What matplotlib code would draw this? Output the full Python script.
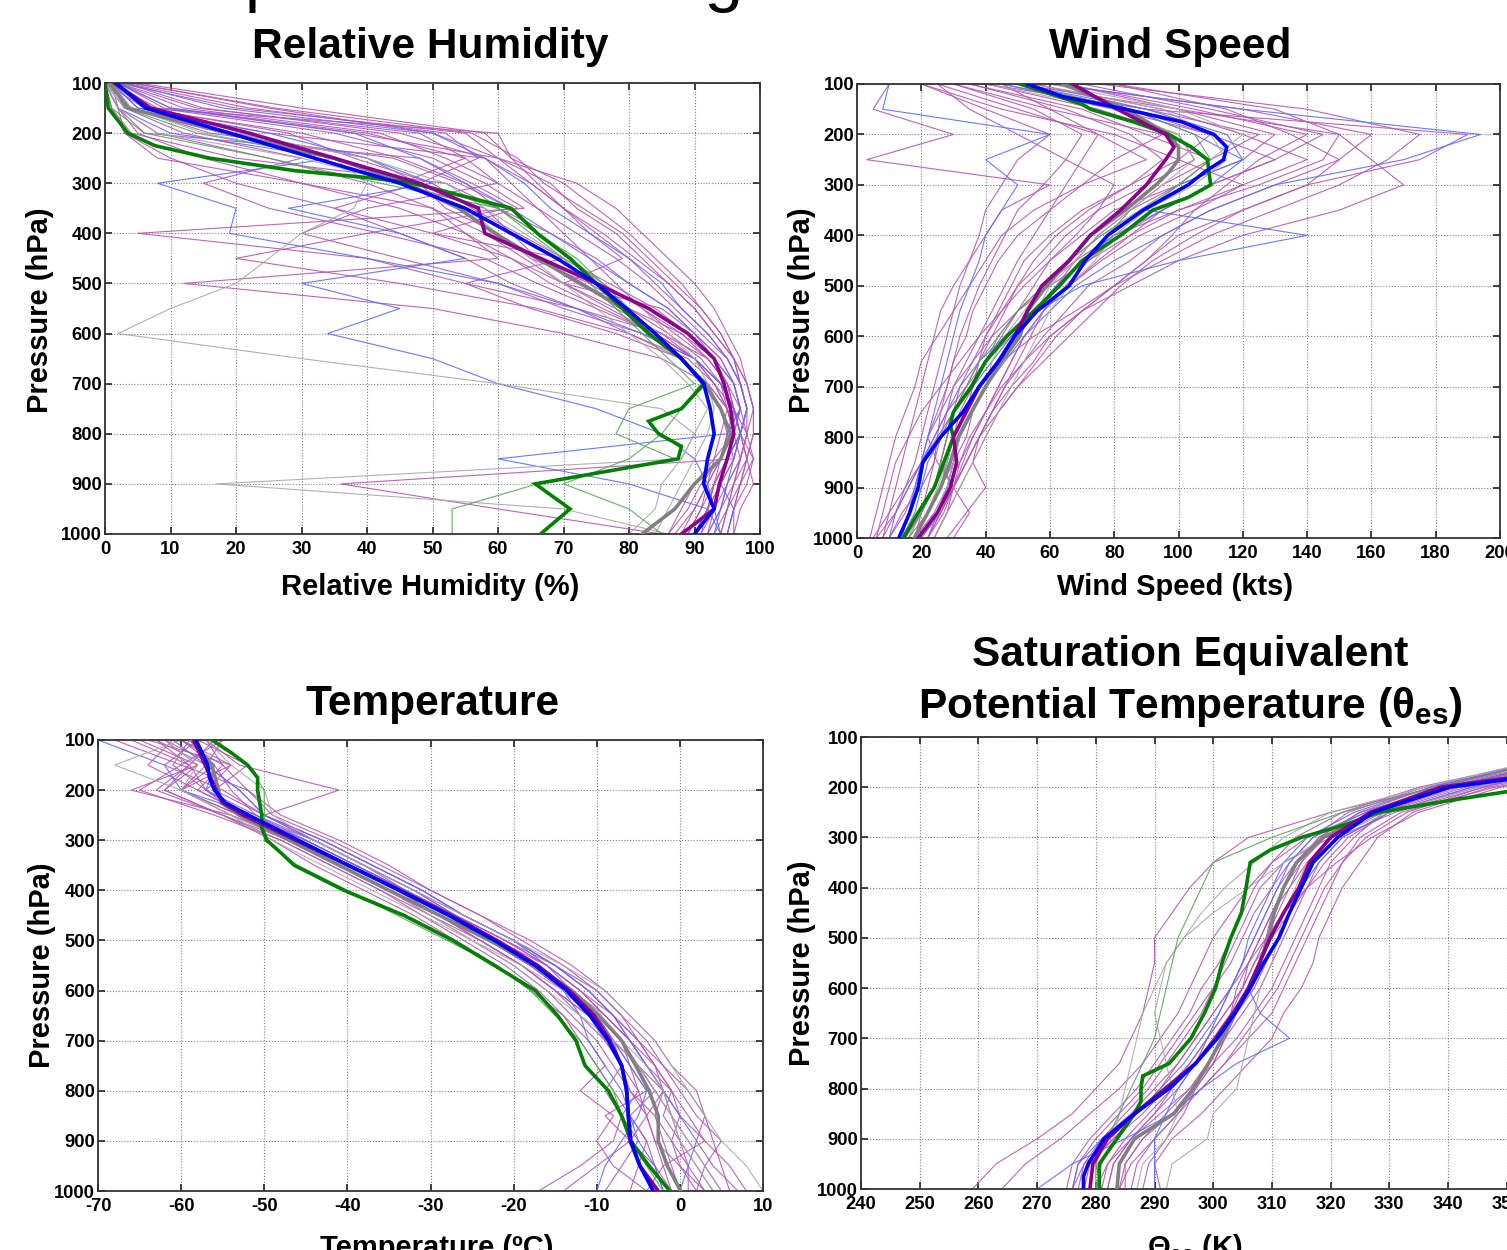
import matplotlib
matplotlib.use('Agg')
import matplotlib.pyplot as plt

plt.rcParams['font.family'] = ['Liberation Sans', 'DejaVu Sans']
plt.rcParams['mathtext.fontset'] = 'custom'
plt.rcParams['mathtext.rm'] = 'Liberation Sans'
plt.rcParams['mathtext.bf'] = 'Liberation Sans:bold'
plt.rcParams['mathtext.it'] = 'Liberation Sans:italic'
plt.rcParams['axes.unicode_minus'] = False

# ---------------- data ----------------
P = [100, 150, 200, 250, 300, 350, 400, 450, 500, 550, 600, 650, 700, 750, 800, 850, 900, 950, 1000]
y_ticks = [100, 200, 300, 400, 500, 600, 700, 800, 900, 1000]

# Relative humidity (%)
rh_xticks = [0, 10, 20, 30, 40, 50, 60, 70, 80, 90, 100]
rh_blue = [1.7, 6.2, 19, 32, 45, 55, 62, 69, 75, 79.6, 84, 88, 91.4, 92.4, 93, 92, 91.4, 93, 90]
rh_purple = [1.4, 7, 22, 35, 48, 57, 58, 66.5, 75, 83, 89, 93, 94.5, 95.5, 96, 95, 93.8, 93, 88]
rh_gray = [0.7, 3.5, 18.7, 35, 46, 54, 59.5, 66, 72.7, 79, 83, 88, 91.5, 94, 95.5, 94, 90, 87, 82]
rh_green_p = [100, 150, 175, 200, 225, 250, 275, 290, 300, 350, 400, 450, 500, 550, 600, 650, 700,
              750, 775, 800, 825, 850, 900, 950, 1000]
rh_green = [0, 0.5, 2, 3.5, 7.6, 16, 29, 41, 47, 62, 66, 71, 75, 79, 83, 88, 91.5,
            88, 83, 84.5, 88, 87.5, 65.7, 71, 66.5]
rh_thin_purple = [
    [2, 20, 55, 60, 68, 72, 78, 82, 86, 90, 93, 96, 97, 98, 97, 95, 94, 92, 90],
    [1, 5, 30, 45, 55, 60, 68, 75, 80, 86, 90, 94, 96, 97, 96, 97, 95, 93, 91],
    [0, 2, 8, 25, 40, 50, 55, 62, 70, 78, 85, 90, 94, 95, 96, 93, 90, 88, 86],
    [3, 15, 45, 58, 62, 66, 70, 74, 78, 82, 88, 92, 95, 96, 98, 99, 97, 95, 93],
    [0, 1, 3, 10, 20, 35, 45, 55, 62, 72, 80, 88, 92, 94, 95, 96, 94, 93, 92],
    [5, 30, 58, 62, 70, 75, 80, 84, 88, 91, 94, 96, 98, 99, 99, 98, 96, 95, 94],
    [1, 4, 20, 40, 48, 52, 60, 65, 74, 80, 88, 93, 96, 97, 95, 94, 92, 90, 88],
    [2, 10, 40, 55, 60, 40, 30, 45, 60, 70, 82, 90, 94, 96, 97, 96, 36, 60, 85],
    [0, 3, 12, 30, 15, 25, 42, 58, 66, 75, 84, 90, 93, 95, 96, 94, 93, 92, 90],
    [4, 25, 50, 60, 65, 70, 74, 79, 70, 85, 90, 94, 96, 97, 98, 97, 96, 94, 92],
    [1, 8, 35, 50, 58, 64, 5, 40, 55, 65, 78, 88, 92, 95, 96, 95, 94, 92, 90],
    [2, 12, 42, 52, 60, 66, 72, 78, 83, 87, 91, 95, 97, 98, 97, 99, 98, 96, 95],
    [0, 2, 5, 15, 30, 45, 55, 60, 12, 50, 70, 85, 92, 95, 96, 95, 93, 91, 89],
    [1, 6, 60, 62, 66, 70, 75, 80, 84, 88, 92, 95, 97, 98, 98, 97, 95, 94, 92],
    [0, 2, 6, 48, 56, 63, 50, 70, 77, 84, 89, 93, 95, 96, 95, 94, 92, 91, 89],
    [2, 14, 48, 55, 45, 58, 62, 66, 72, 80, 86, 91, 94, 96, 97, 98, 97, 96, 95],
    [1, 3, 25, 58, 65, 70, 76, 81, 86, 90, 93, 96, 98, 99, 98, 97, 96, 95, 94],
    [0, 1, 4, 20, 52, 60, 66, 71, 76, 82, 87, 92, 95, 96, 97, 96, 94, 93, 90],
    [3, 22, 52, 57, 48, 35, 50, 62, 68, 76, 84, 90, 93, 95, 94, 93, 92, 90, 87],
    [0, 4, 16, 44, 54, 62, 40, 20, 45, 66, 80, 89, 93, 96, 97, 98, 99, 97, 96],
    [2, 9, 38, 60, 72, 78, 82, 86, 90, 93, 95, 97, 98, 99, 99, 98, 97, 96, 96],
    [1, 2, 3, 8, 30, 50, 58, 64, 70, 77, 84, 90, 94, 96, 96, 94, 91, 89, 86],
    [0, 6, 28, 38, 50, 56, 63, 70, 55, 72, 85, 92, 95, 97, 96, 95, 93, 92, 91],
    [4, 26, 56, 63, 67, 73, 79, 83, 87, 91, 94, 96, 97, 98, 97, 95, 93, 92, 90],
]
rh_thin_blue = [
    [3, 18, 50, 58, 64, 68, 74, 80, 85, 88, 92, 95, 97, 98, 97, 96, 95, 94, 93],
    [1, 5, 25, 40, 50, 28, 45, 55, 30, 45, 34, 50, 60, 75, 85, 90, 92, 93, 94],
    [0, 2, 10, 35, 8, 20, 19, 40, 60, 72, 82, 90, 94, 96, 97, 95, 94, 96, 95],
    [2, 10, 38, 48, 55, 62, 68, 74, 80, 86, 90, 93, 96, 97, 95, 60, 80, 92, 94],
]
rh_thin_gray = [
    [0, 2, 8, 30, 45, 55, 60, 65, 70, 75, 80, 85, 89, 92, 90, 88, 85, 84, 80],
    [1, 4, 15, 35, 40, 38, 30, 25, 20, 10, 2, 30, 60, 85, 90, 88, 17, 70, 86],
    [0, 3, 20, 40, 52, 58, 64, 70, 76, 82, 86, 90, 92, 93, 92, 90, 88, 86, 84],
]
rh_thin_green = [
    [0, 1, 6, 25, 42, 60, 65, 70, 74, 78, 82, 86, 90, 80, 78, 87, 66, 53, 53],
    [1, 3, 14, 35, 48, 60, 66, 72, 76, 80, 84, 88, 91, 88, 85, 80, 70, 80, 85],
]

# Wind speed (kts)
ws_xticks = [0, 20, 40, 60, 80, 100, 120, 140, 160, 180, 200]
ws_blue_p = [100, 125, 150, 175, 200, 225, 250, 275, 300, 350, 400, 450, 500, 550, 600, 650, 700,
             750, 800, 850, 900, 950, 1000]
ws_blue = [53, 64, 83.5, 101, 111, 115, 114, 108, 103, 89, 78, 71, 66, 56, 49, 44, 38,
           33, 26, 20.5, 19, 16.4, 13]
ws_green_p = [100, 140, 150, 175, 200, 225, 250, 300, 325, 350, 400, 450, 500, 550, 600, 650, 700,
              750, 775, 800, 850, 900, 950, 1000]
ws_green = [50.7, 70, 72.6, 86, 97, 104, 109, 110, 103, 92, 82, 70, 63, 55, 46.6, 40, 35.6,
            30, 29, 30, 27, 24, 19, 14.4]
ws_purple_p = [100, 150, 200, 225, 250, 300, 350, 400, 450, 500, 550, 600, 650, 700, 750, 800,
               850, 900, 950, 1000]
ws_purple = [67, 81, 96, 98.6, 96, 90, 82, 72.6, 66, 57.5, 53, 49, 44, 38, 34, 30, 31, 29, 25, 19]
ws_gray_p = [100, 150, 200, 225, 250, 275, 300, 350, 400, 450, 500, 550, 600, 650, 700, 750, 800,
             850, 900, 950, 1000]
ws_gray = [64, 83.5, 97, 100, 100, 97, 93, 83.5, 72.6, 66, 59, 53, 50.7, 45, 40, 35.6, 31.5,
           29, 26, 22, 17.8]
ws_thin_purple = [
    [60, 120, 160, 150, 130, 110, 95, 85, 72, 65, 58, 52, 45, 40, 35, 32, 30, 25, 20],
    [40, 90, 190, 175, 140, 120, 100, 90, 80, 70, 60, 55, 48, 42, 38, 34, 30, 26, 22],
    [30, 60, 95, 80, 70, 60, 50, 44, 40, 36, 34, 30, 28, 25, 22, 20, 18, 15, 10],
    [70, 110, 145, 130, 110, 95, 85, 75, 66, 58, 52, 48, 44, 40, 36, 32, 28, 24, 18],
    [20, 40, 60, 50, 45, 40, 38, 35, 32, 30, 28, 26, 24, 22, 20, 18, 15, 12, 8],
    [50, 100, 130, 120, 100, 85, 78, 70, 62, 56, 50, 45, 40, 36, 32, 30, 28, 25, 20],
    [80, 130, 150, 160, 170, 150, 120, 100, 85, 70, 60, 52, 46, 42, 38, 34, 30, 26, 22],
    [45, 80, 110, 100, 85, 70, 60, 52, 48, 44, 40, 36, 32, 30, 28, 26, 30, 35, 30],
    [35, 70, 90, 110, 100, 80, 70, 60, 55, 50, 45, 40, 35, 30, 25, 20, 15, 10, 5],
    [55, 95, 120, 140, 120, 100, 85, 72, 60, 50, 42, 36, 30, 26, 22, 25, 30, 28, 24],
    [25, 50, 75, 90, 70, 55, 45, 40, 35, 30, 25, 20, 18, 15, 12, 10, 8, 6, 4],
    [65, 105, 140, 125, 115, 105, 98, 90, 80, 68, 55, 45, 40, 36, 34, 30, 26, 22, 16],
    [40, 75, 100, 105, 90, 75, 65, 58, 50, 45, 40, 38, 36, 34, 30, 28, 24, 20, 15],
    [10, 5, 30, 3, 60, 45, 40, 35, 30, 26, 24, 22, 20, 18, 16, 14, 12, 10, 8],
    [30, 55, 70, 65, 58, 50, 46, 42, 38, 35, 32, 30, 28, 26, 25, 24, 22, 20, 18],
    [75, 140, 175, 165, 150, 130, 110, 95, 80, 70, 62, 56, 50, 44, 40, 36, 32, 28, 24],
    [35, 65, 85, 95, 85, 72, 62, 55, 50, 46, 42, 38, 34, 30, 28, 26, 24, 20, 15],
    [55, 90, 125, 110, 95, 85, 75, 68, 62, 58, 54, 50, 46, 42, 38, 36, 40, 34, 28],
    [20, 45, 80, 100, 120, 105, 88, 76, 66, 56, 48, 40, 34, 28, 24, 20, 16, 12, 6],
    [65, 100, 150, 145, 125, 100, 80, 68, 58, 50, 44, 40, 36, 32, 30, 28, 26, 22, 18],
    [45, 60, 75, 70, 65, 60, 55, 50, 46, 42, 38, 34, 30, 28, 26, 24, 20, 14, 10],
    [80, 115, 135, 150, 140, 120, 105, 92, 82, 74, 66, 58, 50, 44, 38, 34, 30, 26, 20],
    [25, 35, 50, 65, 80, 75, 68, 60, 52, 45, 38, 32, 26, 20, 16, 12, 10, 8, 6],
    [50, 85, 110, 130, 110, 95, 82, 72, 65, 58, 52, 48, 44, 40, 36, 33, 30, 27, 22],
]
ws_thin_blue = [
    [10, 8, 60, 40, 50, 45, 40, 38, 35, 32, 30, 28, 26, 24, 22, 20, 18, 16, 14],
    [60, 120, 194, 170, 130, 110, 95, 80, 68, 60, 52, 46, 40, 36, 32, 30, 28, 25, 22],
    [50, 90, 115, 120, 110, 95, 80, 70, 62, 55, 48, 42, 36, 30, 26, 22, 20, 18, 14],
    [45, 85, 105, 120, 100, 90, 140, 100, 70, 56, 46, 38, 32, 28, 24, 20, 16, 12, 10],
]
ws_thin_gray = [
    [55, 95, 110, 115, 105, 90, 76, 66, 58, 52, 46, 42, 40, 36, 32, 30, 28, 24, 20],
    [40, 80, 100, 105, 95, 85, 75, 68, 60, 56, 50, 44, 38, 34, 30, 28, 25, 22, 18],
    [60, 100, 120, 110, 100, 90, 80, 74, 66, 60, 56, 52, 48, 44, 40, 36, 32, 28, 24],
]
ws_thin_green = [
    [50, 85, 105, 110, 100, 88, 76, 66, 58, 50, 44, 38, 34, 30, 28, 26, 24, 20, 16],
]

# Temperature (deg C)
t_xticks = [-70, -60, -50, -40, -30, -20, -10, 0, 10]
t_blue_p = [100, 150, 175, 200, 225, 250, 300, 350, 400, 450, 500, 550, 600, 650, 700, 750, 800,
            850, 900, 950, 1000]
t_blue = [-58.2, -56.8, -56.6, -56, -54.7, -51.9, -45.9, -39.9, -33.8, -27.8, -22.3, -17.4, -13.6,
          -10.8, -8.6, -7, -6.4, -6.2, -5.9, -4.8, -3.2]
t_pg_p = [100, 150, 200, 225, 250, 300, 350, 400, 450, 500, 550, 600, 650, 700, 750, 800, 850,
          900, 950, 1000]
t_purple = [-58.5, -57.1, -55.8, -55, -52.5, -46.2, -39.9, -33.6, -27.5, -22, -17.1, -13.3, -10.3,
            -8.4, -7, -6.4, -6.2, -6, -4.8, -2.6]
t_gray = [-58.8, -56.3, -55.5, -55.2, -53, -47, -41, -35, -28.9, -22.9, -17.4, -13, -9.7, -7,
          -5.3, -3.7, -2.6, -2.6, -1.5, 0.1]
t_green_p = [100, 125, 150, 175, 200, 250, 275, 300, 325, 350, 400, 450, 500, 550, 600, 650, 700,
             750, 800, 850, 900, 950, 1000]
t_green = [-56.3, -54, -52, -50.8, -50.8, -50.3, -50.3, -49.7, -48, -46.4, -40.4, -33.2, -27.3,
           -22.3, -17.4, -14.7, -12.5, -11.4, -8.6, -7, -5.9, -3.7, -1.2]
t_thin_purple = [
    [-58, -62, -55, -50, -43, -37, -31, -26, -20, -15, -11, -8, -5, -3, -1, 0, -1, 1, 3],
    [-62, -58, -66, -54, -47, -41, -35, -29, -24, -19, -15, -12, -9, -7, -5, -4, -3, -2, -1],
    [-55, -60, -52, -48, -41, -35, -30, -24, -18, -13, -9, -6, -3, -1, 2, 3, 4, 5, 6],
    [-60, -55, -58, -52, -45, -39, -33, -28, -23, -18, -14, -10, -7, -6, -4, -9, -6, -3, -1],
    [-65, -58, -62, -55, -49, -44, -38, -32, -27, -22, -18, -14, -11, -9, -12, -8, -10, -8, -4],
    [-57, -53, -41, -50, -44, -38, -32, -27, -21, -16, -12, -9, -6, -4, -2, -1, 0, 2, 4],
    [-68, -60, -65, -56, -48, -42, -36, -31, -26, -21, -17, -14, -12, -10, -8, -6, -4, -3, -2],
    [-60, -56, -54, -51, -46, -40, -34, -29, -23, -18, -14, -11, -8, -5, -3, -6, -4, -5, -6],
    [-56, -59, -57, -52, -44, -38, -33, -28, -22, -17, -13, -10, -8, -7, -9, -7, -8, -12, -17],
    [-63, -57, -60, -53, -46, -40, -34, -27, -21, -15, -10, -7, -4, -2, 0, 2, 5, 3, 2],
    [-64, -54, -60, -53, -46, -40, -34, -28, -22, -16, -12, -9, -6, -4, -1, 1, 3, -2, -4],
    [-58, -52, -56, -50, -43, -37, -31, -26, -20, -15, -11, -8, -6, -4, -2, -3, -1, 0, 2],
    [-61, -64, -58, -52, -45, -39, -33, -27, -21, -16, -12, -8, -5, -2, 1, 3, 2, 4, 7],
    [-66, -59, -63, -55, -48, -42, -36, -30, -25, -20, -16, -13, -10, -8, -6, -4, -6, -10, -14],
    [-57, -55, -52, -49, -42, -36, -30, -24, -19, -14, -10, -7, -5, -3, -1, -2, 0, 1, 1],
    [-59, -61, -57, -53, -47, -41, -35, -29, -24, -19, -15, -11, -9, -7, -6, -3, -2, -1, 0],
    [-55, -57, -53, -50, -44, -38, -32, -27, -22, -17, -13, -10, -7, -5, -3, -1, 1, 3, 5],
    [-62, -56, -60, -54, -46, -40, -34, -28, -23, -18, -13, -9, -6, -3, -2, -4, -3, 0, 3],
    [-60, -54, -57, -51, -45, -39, -33, -28, -22, -17, -13, -10, -8, -6, -5, -7, -5, -7, -9],
    [-63, -59, -62, -55, -47, -41, -35, -30, -24, -19, -15, -11, -8, -5, -2, 0, 3, 6, 8],
]
t_thin_blue = [
    [-59, -56, -57, -52, -45, -39, -33, -27, -22, -17, -14, -12, -11, -9, -7, -6, -5, -3, -2],
    [-70, -62, -60, -51, -44, -38, -32, -26, -20, -15, -11, -8, -6, -4, -2, 0, 2, 1, 0],
    [-61, -57, -53, -50, -43, -37, -31, -26, -20, -16, -13, -10, -8, -6, -4, -5, -7, -9, -10],
]
t_thin_gray = [
    [-60, -68, -60, -54, -47, -41, -35, -30, -25, -20, -16, -12, -8, -5, -3, -1, 0, 2, 4],
    [-57, -54, -50, -49, -44, -38, -32, -26, -20, -14, -9, -6, -3, -1, 1, 3, 5, 8, 10],
    [-62, -58, -60, -54, -49, -43, -37, -31, -25, -19, -14, -10, -7, -4, -2, -1, 1, 3, 5],
]
t_thin_green = [
    [-56, -52, -50, -50, -50, -46, -40, -34, -28, -22, -18, -15, -12, -10, -8, -7, -6, -4, -2],
]

# Saturation equivalent potential temperature (K)
th_xticks = [240, 250, 260, 270, 280, 290, 300, 310, 320, 330, 340, 350, 360]
th_blue_p = [100, 150, 200, 250, 300, 350, 400, 450, 500, 550, 600, 650, 700, 750, 800, 850, 900,
             950, 975, 1000]
th_blue = [420, 372, 340.2, 327.2, 321.2, 317, 315, 313, 311.2, 308.6, 306.3, 303.7, 300.7, 297,
           292.5, 286.6, 281.4, 278.7, 277.9, 277.9]
th_purple = [420, 370, 338.7, 326.8, 320, 316.4, 314.6, 312, 309.7, 307.9, 306, 303.4, 300.4, 297,
             291.8, 286.6, 282, 279.5, 279]
th_gray = [420, 370, 340, 327.6, 318.7, 314.2, 312, 310.4, 309.4, 307.9, 306, 303.7, 301.5, 299.2,
           296.6, 293.3, 286.6, 284, 283.6]
th_green_p = [100, 150, 200, 225, 250, 275, 300, 325, 350, 400, 450, 500, 550, 600, 650, 700, 750,
              775, 800, 825, 850, 900, 950, 1000]
th_green = [420, 380, 355, 341, 328.3, 322.4, 315, 309.7, 306.3, 305.6, 304.8, 303, 301.5, 300.4,
            298.5, 296.2, 292.5, 288, 287.7, 287.7, 286.6, 283.6, 280.6, 280.6]
th_thin_purple = [
    [400, 360, 340, 325, 318, 315, 313, 311, 309, 307, 305, 302, 299, 296, 292, 288, 283, 279, 278],
    [400, 365, 345, 330, 322, 318, 316, 314, 312, 310, 308, 305, 302, 299, 296, 292, 288, 285, 284],
    [400, 355, 335, 322, 314, 310, 306, 303, 300, 298, 296, 294, 291, 288, 284, 279, 274, 268, 264],
    [400, 370, 348, 332, 325, 322, 320, 318, 316, 314, 312, 310, 306, 302, 298, 294, 290, 287, 286],
    [400, 358, 338, 320, 306, 300, 296, 293, 290, 290, 289, 288, 286, 284, 280, 276, 270, 263, 259],
    [400, 362, 342, 328, 320, 316, 313, 310, 308, 306, 304, 303, 302, 300, 297, 294, 290, 286, 284],
    [400, 368, 347, 334, 328, 325, 322, 320, 318, 317, 315, 312, 310, 306, 302, 298, 293, 290, 291],
    [400, 356, 338, 326, 316, 310, 307, 305, 303, 301, 298, 296, 293, 290, 287, 283, 279, 276, 275],
    [400, 360, 341, 329, 320, 312, 308, 306, 304, 302, 300, 298, 295, 292, 289, 285, 281, 280, 281],
    [400, 364, 344, 330, 323, 319, 316, 313, 310, 307, 305, 302, 299, 296, 293, 290, 286, 283, 282],
    [400, 366, 346, 331, 321, 317, 315, 313, 311, 309, 307, 304, 301, 297, 293, 289, 285, 282, 281],
    [400, 359, 339, 327, 319, 314, 311, 309, 307, 305, 303, 300, 297, 294, 291, 287, 283, 278, 276],
    [400, 361, 343, 329, 324, 320, 318, 316, 314, 312, 310, 307, 304, 300, 296, 291, 286, 282, 280],
    [400, 357, 336, 323, 317, 313, 310, 307, 305, 303, 300, 297, 294, 291, 288, 284, 280, 277, 276],
    [400, 363, 346, 333, 326, 322, 319, 317, 315, 313, 311, 308, 305, 302, 298, 293, 288, 285, 285],
    [400, 359, 340, 327, 319, 315, 312, 310, 308, 306, 305, 303, 300, 297, 294, 290, 286, 283, 282],
    [400, 367, 349, 335, 327, 321, 316, 312, 309, 306, 303, 300, 297, 294, 290, 286, 281, 278, 277],
    [400, 355, 337, 325, 318, 314, 312, 310, 309, 308, 306, 304, 302, 300, 297, 295, 292, 289, 288],
]
th_thin_blue = [
    [400, 358, 340, 326, 317, 313, 311, 309, 307, 305, 303, 301, 298, 295, 291, 287, 281, 277, 276],
    [400, 362, 344, 330, 322, 318, 315, 312, 310, 308, 306, 308, 313, 304, 298, 293, 285, 276, 270],
    [400, 356, 337, 324, 316, 312, 310, 308, 306, 305, 303, 301, 299, 297, 294, 292, 290, 290, 290],
]
th_thin_gray = [
    [400, 354, 336, 320, 312, 307, 302, 298, 295, 292, 290, 288, 287, 286, 285, 284, 283, 281, 280],
    [400, 362, 345, 330, 320, 316, 314, 312, 311, 310, 308, 307, 306, 305, 304, 300, 299, 293, 292],
    [400, 360, 342, 328, 319, 312, 306, 300, 295, 292, 291, 290, 291, 292, 293, 294, 292, 288, 287],
]
th_thin_green = [
    [400, 356, 338, 322, 310, 300, 298, 296, 294, 293, 292, 291, 290, 288, 286, 284, 282, 280, 280],
]

# ---------------- styles ----------------
C_BLUE, C_PURPLE, C_GREEN, C_GRAY = '#0000ff', '#8b008b', '#008000', '#808080'
T_BLUE, T_PURPLE, T_GREEN, T_GRAY = '#5a6cff', '#b455b4', '#55a555', '#a8a8a8'
W, H = 1507, 1250


def fx(px):
    return px / W


def fy(py):
    return 1 - py / H


fig = plt.figure(figsize=(W / 100, H / 100), dpi=100)


def make_axes(left, right, top, bottom):
    return fig.add_axes([fx(left), fy(bottom), fx(right) - fx(left), fy(top) - fy(bottom)])


def setup(ax, xlim, xticks):
    ax.set_xlim(*xlim)
    ax.set_ylim(1000, 100)
    ax.set_xticks(xticks)
    ax.set_yticks(y_ticks)
    ax.grid(True, color='#808080', linestyle=(0, (1, 1.6)), linewidth=0.8)
    ax.tick_params(direction='in', top=True, right=True, length=5, width=1.2,
                   labelsize=13.2, color='#222222')
    ax.tick_params(axis='x', pad=5)
    ax.tick_params(axis='y', pad=2)
    for lab in ax.get_xticklabels() + ax.get_yticklabels():
        lab.set_fontweight('bold')
    for s in ax.spines.values():
        s.set_linewidth(1.3)
        s.set_color('#333333')


def draw(ax, thin_groups, means):
    for lines, col in thin_groups:
        for vals in lines:
            ax.plot(vals, P, color=col, lw=0.8, alpha=0.9, zorder=2)
    for pv, vals, col in means:
        ax.plot(vals, pv, color=col, lw=2.6, zorder=3, solid_joinstyle='miter')


# Relative Humidity
ax1 = make_axes(105, 760, 83, 534)
setup(ax1, (0, 100), rh_xticks)
draw(ax1,
     [(rh_thin_purple, T_PURPLE), (rh_thin_blue, T_BLUE), (rh_thin_gray, T_GRAY), (rh_thin_green, T_GREEN)],
     [(P, rh_gray, C_GRAY), (rh_green_p, rh_green, C_GREEN), (P, rh_purple, C_PURPLE), (P, rh_blue, C_BLUE)])

# Wind Speed
ax2 = make_axes(857, 1500, 84, 538)
setup(ax2, (0, 200), ws_xticks)
draw(ax2,
     [(ws_thin_purple, T_PURPLE), (ws_thin_blue, T_BLUE), (ws_thin_gray, T_GRAY), (ws_thin_green, T_GREEN)],
     [(ws_gray_p, ws_gray, C_GRAY), (ws_green_p, ws_green, C_GREEN), (ws_purple_p, ws_purple, C_PURPLE),
      (ws_blue_p, ws_blue, C_BLUE)])

# Temperature
ax3 = make_axes(98, 763, 740, 1191)
setup(ax3, (-70, 10), t_xticks)
draw(ax3,
     [(t_thin_purple, T_PURPLE), (t_thin_blue, T_BLUE), (t_thin_gray, T_GRAY), (t_thin_green, T_GREEN)],
     [(t_pg_p, t_gray, C_GRAY), (t_green_p, t_green, C_GREEN), (t_pg_p, t_purple, C_PURPLE),
      (t_blue_p, t_blue, C_BLUE)])

# Theta-es
ax4 = make_axes(861, 861 + 12 * 58.7, 737, 1189)
setup(ax4, (240, 360), th_xticks)
draw(ax4,
     [(th_thin_purple, T_PURPLE), (th_thin_blue, T_BLUE), (th_thin_gray, T_GRAY), (th_thin_green, T_GREEN)],
     [(P, th_gray, C_GRAY), (th_green_p, th_green, C_GREEN), (P, th_purple, C_PURPLE),
      (th_blue_p, th_blue, C_BLUE)])

# ---------------- text ----------------
TS, LS = 30.5, 21
fig.text(fx(98), fy(-1), 'Composite Soundings', fontsize=50, ha='left', va='baseline')
fig.text(fx(430), fy(47), 'Relative Humidity', fontsize=TS, fontweight='bold', ha='center', va='center')
fig.text(fx(1170), fy(47), 'Wind Speed', fontsize=TS, fontweight='bold', ha='center', va='center')
fig.text(fx(433), fy(704), 'Temperature', fontsize=TS, fontweight='bold', ha='center', va='center')
fig.text(fx(1190), fy(655), 'Saturation Equivalent', fontsize=TS, fontweight='bold', ha='center', va='center')
fig.text(fx(1190), fy(718), r'Potential Temperature (θ$_{\mathbf{es}}$)', fontsize=TS, fontweight='bold',
         ha='center', va='baseline')

fig.text(fx(430), fy(587), 'Relative Humidity (%)', fontsize=LS, fontweight='bold', ha='center', va='center')
fig.text(fx(1175), fy(587), 'Wind Speed (kts)', fontsize=LS, fontweight='bold', ha='center', va='center')
fig.text(fx(437), fy(1256), 'Temperature (ºC)', fontsize=LS, fontweight='bold', ha='center', va='baseline')
fig.text(fx(1195), fy(1256), r'Θ$_{\mathbf{es}}$ (K)', fontsize=LS, fontweight='bold', ha='center', va='baseline')

for x, y in [(40, 310), (802, 310), (42, 965), (802, 963)]:
    fig.text(fx(x), fy(y), 'Pressure (hPa)', fontsize=LS, fontweight='bold', rotation=90,
             ha='center', va='center')

fig.savefig('out.png', dpi=100)
